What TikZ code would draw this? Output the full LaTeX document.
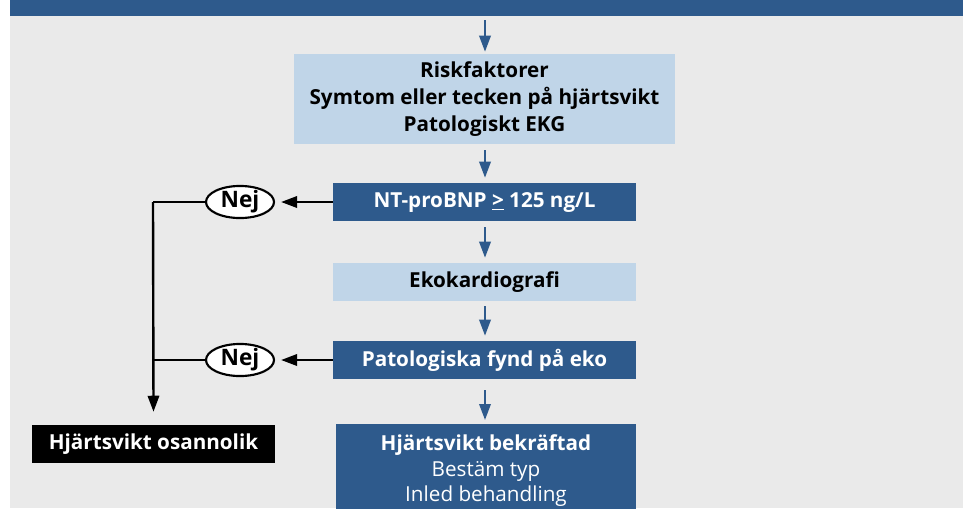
\documentclass[tikz,border=0pt]{standalone}
\usepackage{fontspec}
\setmainfont{Open Sans}
\usetikzlibrary{arrows.meta,shapes.geometric}
\definecolor{darkblue}{HTML}{2E5A8C}
\definecolor{lightblue}{HTML}{C0D5E8}
\definecolor{bggray}{HTML}{EAEAEA}
\tikzset{
  px/.style={x=0.75pt,y=-0.75pt},
  boxfont/.style={font=\fontsize{15.5}{20}\selectfont\bfseries},
  lightbox/.style={fill=lightblue,inner sep=0pt,align=center,boxfont,text=black},
  darkbox/.style={fill=darkblue,inner sep=0pt,align=center,boxfont,text=white},
  blackbox/.style={fill=black,inner sep=0pt,align=center,boxfont,text=white},
  nejnode/.style={ellipse,draw=black,line width=1.6pt,fill=white,inner sep=0pt,minimum width=51pt,minimum height=20pt,font=\fontsize{17}{18}\selectfont\bfseries},
  bluearrow/.style={draw=darkblue,line width=1.8pt,-{Triangle[length=12pt,width=8.5pt]}},
  blackarrow/.style={draw=black,line width=1.8pt,-{Triangle[length=12pt,width=8.5pt]}},
  blackline/.style={draw=black,line width=1.8pt}
}
\begin{document}
\begin{tikzpicture}[px]
\useasboundingbox (0,0) rectangle (963,508);
\fill[bggray] (10,0) rectangle (963,508);
\fill[darkblue] (10,0) rectangle (963,16);
\coordinate (top) at (485,20);
\node[lightbox,minimum width=381*0.75pt,minimum height=90*0.75pt] (risk) at (484.5,99)
  {Riskfaktorer\\Symtom eller tecken på hjärtsvikt\\Patologiskt EKG};
\node[darkbox,minimum width=303*0.75pt,minimum height=38*0.75pt] (nt) at (484.5,202)
  {NT-proBNP \underline{>} 125 ng/L};
\node[lightbox,minimum width=303*0.75pt,minimum height=38*0.75pt] (eko) at (484.5,282)
  {Ekokardiografi};
\node[darkbox,minimum width=303*0.75pt,minimum height=38*0.75pt] (pat) at (484.5,360)
  {Patologiska fynd på eko};
\node[darkbox,minimum width=300*0.75pt,inner ysep=8pt,anchor=north,font=\fontsize{15.5}{19}\selectfont\bfseries] (conf) at (486,424)
  {Hjärtsvikt bekräftad\\\mdseries Bestäm typ\\\mdseries Inled behandling};
\node[blackbox,minimum width=243*0.75pt,minimum height=38*0.75pt] (unl) at (153.5,444)
  {Hjärtsvikt osannolik};
\node[nejnode] (nej1) at (240,202) {Nej};
\node[nejnode] (nej2) at (240,360) {Nej};
\coordinate (c1) at (153,202);
\coordinate (c2) at (153,360);
\draw[bluearrow] (top) -- ([yshift=2*0.75pt]risk.north -| top);
\draw[bluearrow] ([yshift=-6*0.75pt]risk.south -| top) -- ([yshift=5*0.75pt]nt.north -| top);
\draw[bluearrow] ([yshift=-6*0.75pt]nt.south -| top) -- ([yshift=5*0.75pt]eko.north -| top);
\draw[bluearrow] ([yshift=-5*0.75pt]eko.south -| top) -- ([yshift=5*0.75pt]pat.north -| top);
\draw[bluearrow] ([yshift=-11*0.75pt]pat.south -| top) -- ([yshift=4*0.75pt]conf.north -| top);
\draw[blackarrow] (nt.west) -- ([xshift=6*0.75pt]nej1.east);
\draw[blackarrow] (pat.west) -- ([xshift=6*0.75pt]nej2.east);
\draw[blackline] (nej1.west) -- (c1);
\draw[blackline] (nej2.west) -- (c2);
\draw[blackarrow] (c1) -- ([yshift=13*0.75pt]unl.north);
\end{tikzpicture}
\end{document}
